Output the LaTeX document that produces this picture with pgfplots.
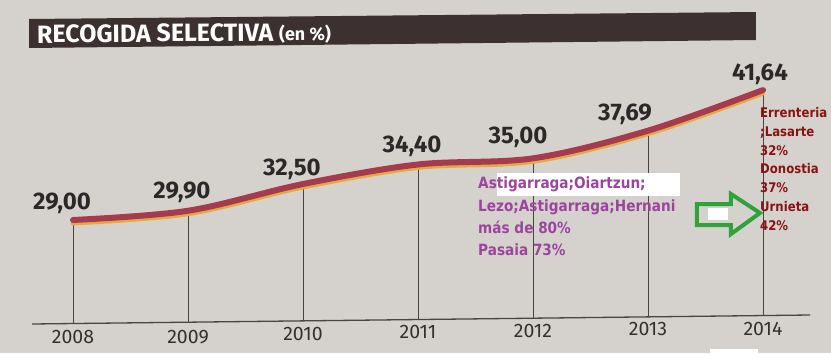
\documentclass[border=0pt]{standalone}
\usepackage{pgfplots}
\usepackage{pgfplotstable}
\pgfplotsset{compat=1.18}
\usepackage{fontspec}
\setmainfont{Fira Sans}
\newfontfamily\annfont[FakeStretch=0.88]{DejaVu Sans}
\definecolor{bg}{HTML}{D5D2CE}
\definecolor{barcol}{HTML}{3C3030}
\definecolor{linecol}{HTML}{A63A4E}
\definecolor{shadowcol}{HTML}{E2AA40}
\definecolor{axiscol}{HTML}{4A4444}
\definecolor{labelcol}{HTML}{2C2828}
\definecolor{yearcol}{HTML}{333030}
\definecolor{purp}{HTML}{9C449E}
\definecolor{maroon}{HTML}{8A1212}
\definecolor{arrowgreen}{HTML}{2FA33A}
\newcommand\PX[1]{2008+(#1-73)/115}
\newcommand\PY[1]{29+(220-#1)/10.28}
\pgfplotstableread{
x y e
2008 29.00 10.07
2009 29.90 10.84
2010 32.50 13.32
2011 34.40 15.08
2012 35.00 15.55
2013 37.69 18.12
2014 41.64 21.94
}\data
\begin{document}
\begin{tikzpicture}
\begin{axis}[
  scale only axis, width=831pt, height=353pt,
  xmin=2007.3652, xmax=2014.5913, ymin=16.062, ymax=50.401,
  axis line style={draw=none},
  ytick=\empty,
  xtick={2008,2009,2010,2011,2012,2013,2014},
  xticklabels={2008,2009,\raisebox{3pt}{2010},\raisebox{5pt}{2011},\raisebox{6pt}{2012},\raisebox{8pt}{2013},\raisebox{8pt}{2014}},
  major tick length=0pt, tick style={draw=none},
  xticklabel style={anchor=base, yshift=10pt, inner sep=0pt, font=\fontsize{19.5}{20}\selectfont, text=yearcol},
  axis background/.style={fill=bg},
  clip=false,
]
% title bar
\fill[barcol] (axis cs:{\PX{29}},{\PY{19}}) -- (axis cs:{\PX{756}},{\PY{12}}) -- (axis cs:{\PX{756}},{\PY{40}}) -- (axis cs:{\PX{29}},{\PY{48}}) -- cycle;
\node[anchor=base west, text=white, inner sep=0pt, rotate=0.5] at (axis cs:{\PX{37}},{\PY{43}}) {\fontsize{25}{25}\selectfont\bfseries RECOGIDA SELECTIVA \fontsize{18}{18}\selectfont(en \%)};
% baseline
\draw[axiscol, line width=1.3pt] (axis cs:{\PX{32}},{\PY{324}}) -- (axis cs:{\PX{810}},{\PY{315}});
% drop lines
\addplot[forget plot, mark=none, draw=none, error bars/.cd, y dir=minus, y explicit, error mark=none, error bar style={draw=axiscol, line width=0.9pt}] table[x=x, y=y, y error minus=e] {\data};
% shadow and line
\addplot[smooth, tension=0.55, line width=4.5pt, color=shadowcol, line cap=round, yshift=-3.2pt, mark=none] table[x=x, y=y] {\data};
\addplot[smooth, tension=0.55, line width=6pt, color=linecol, line cap=round, mark=none] table[x=x, y=y] {\data};
% value labels
\begin{scope}[every node/.style={anchor=base, inner sep=0pt, text=labelcol, font=\fontsize{24}{24}\selectfont\bfseries}]
\node at (axis cs:{\PX{62}},{\PY{209}}) {29,00};
\node at (axis cs:{\PX{182}},{\PY{198}}) {29,90};
\node at (axis cs:{\PX{292}},{\PY{175}}) {32,50};
\node at (axis cs:{\PX{412}},{\PY{152}}) {34,40};
\node at (axis cs:{\PX{518}},{\PY{143}}) {35,00};
\node at (axis cs:{\PX{625}},{\PY{120}}) {37,69};
\node at (axis cs:{\PX{760}},{\PY{80}}) {41,64};
\end{scope}
% white patches
\fill[white] (axis cs:{\PX{497}},{\PY{173}}) rectangle (axis cs:{\PX{680}},{\PY{196}});
\fill[white] (axis cs:{\PX{710}},{\PY{349}}) rectangle (axis cs:{\PX{758}},{\PY{353}});
% purple annotation
\begin{scope}[every node/.style={anchor=base west, inner sep=0pt, text=purp, font=\annfont\bfseries\fontsize{15.5}{18}\selectfont}]
\node at (axis cs:{\PX{478}},{\PY{188}}) {Astigarraga;Oiartzun;};
\node at (axis cs:{\PX{478}},{\PY{211}}) {Lezo;Astigarraga;Hernani};
\node at (axis cs:{\PX{478}},{\PY{233}}) {más de 80\%};
\node at (axis cs:{\PX{478}},{\PY{255}}) {Pasaia 73\%};
\end{scope}
% arrow
\draw[arrowgreen, line width=4pt, line join=miter] (axis cs:{\PX{697}},{\PY{204}}) -- (axis cs:{\PX{731}},{\PY{204}}) -- (axis cs:{\PX{731}},{\PY{194}}) -- (axis cs:{\PX{760}},{\PY{213}}) -- (axis cs:{\PX{731}},{\PY{234}}) -- (axis cs:{\PX{731}},{\PY{225}}) -- (axis cs:{\PX{697}},{\PY{225}}) -- cycle;
\fill[white] (axis cs:{\PX{708}},{\PY{208}}) rectangle (axis cs:{\PX{728}},{\PY{220}});
% maroon annotation
\begin{scope}[every node/.style={anchor=base west, inner sep=0pt, text=maroon, font=\annfont\bfseries\fontsize{13.3}{16}\selectfont}]
\node at (axis cs:{\PX{760}},{\PY{117}}) {Errenteria};
\node at (axis cs:{\PX{760}},{\PY{136}}) {;Lasarte};
\node at (axis cs:{\PX{760}},{\PY{155}}) {32\%};
\node at (axis cs:{\PX{760}},{\PY{173}}) {Donostia};
\node at (axis cs:{\PX{760}},{\PY{192}}) {37\%};
\node at (axis cs:{\PX{760}},{\PY{211}}) {Urnieta};
\node at (axis cs:{\PX{760}},{\PY{230}}) {42\%};
\end{scope}
\end{axis}
\end{tikzpicture}
\end{document}
